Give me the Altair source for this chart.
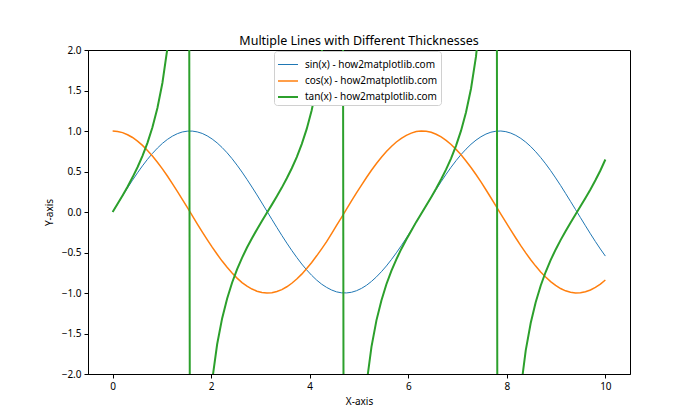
import altair as alt
import pandas as pd

x_vals = [0.0, 0.101, 0.202, 0.303, 0.404, 0.505, 0.606, 0.707, 0.808, 0.909,
          1.010, 1.111, 1.212, 1.313, 1.414, 1.515, 1.616, 1.717, 1.818, 1.919,
          2.020, 2.121, 2.222, 2.323, 2.424, 2.525, 2.626, 2.727, 2.828, 2.929,
          3.030, 3.131, 3.232, 3.333, 3.434, 3.535, 3.636, 3.737, 3.838, 3.939,
          4.040, 4.141, 4.242, 4.343, 4.444, 4.545, 4.646, 4.747, 4.848, 4.949,
          5.051, 5.152, 5.253, 5.354, 5.455, 5.556, 5.657, 5.758, 5.859, 5.960,
          6.061, 6.162, 6.263, 6.364, 6.465, 6.566, 6.667, 6.768, 6.869, 6.970,
          7.071, 7.172, 7.273, 7.374, 7.475, 7.576, 7.677, 7.778, 7.879, 7.980,
          8.081, 8.182, 8.283, 8.384, 8.485, 8.586, 8.687, 8.788, 8.889, 8.990,
          9.091, 9.192, 9.293, 9.394, 9.495, 9.596, 9.697, 9.798, 9.899, 10.0]

sin_vals = [0.000, 0.101, 0.201, 0.298, 0.393, 0.484, 0.570, 0.650, 0.723, 0.789,
            0.847, 0.896, 0.936, 0.967, 0.988, 0.998, 0.999, 0.989, 0.970, 0.940,
            0.901, 0.853, 0.796, 0.731, 0.658, 0.578, 0.493, 0.402, 0.308, 0.211,
            0.111, 0.010, -0.091, -0.191, -0.289, -0.384, -0.475, -0.561, -0.642, -0.716,
            -0.782, -0.841, -0.891, -0.931, -0.963, -0.986, -0.998, -0.999, -0.991, -0.972,
            -0.943, -0.905, -0.857, -0.801, -0.737, -0.666, -0.588, -0.504, -0.415, -0.322,
            -0.225, -0.121, -0.021, 0.080, 0.180, 0.279, 0.374, 0.466, 0.553, 0.634,
            0.709, 0.776, 0.836, 0.887, 0.929, 0.962, 0.985, 0.997, 1.000, 0.992,
            0.974, 0.946, 0.909, 0.863, 0.808, 0.744, 0.673, 0.595, 0.511, 0.421,
            0.328, 0.230, 0.131, 0.031, -0.070, -0.170, -0.269, -0.365, -0.457, -0.544]

cos_vals = [1.000, 0.995, 0.980, 0.954, 0.920, 0.875, 0.822, 0.760, 0.691, 0.615,
            0.532, 0.444, 0.351, 0.255, 0.156, 0.056, -0.045, -0.146, -0.245, -0.341,
            -0.434, -0.522, -0.606, -0.683, -0.753, -0.816, -0.871, -0.916, -0.951, -0.978,
            -0.994, -1.000, -0.996, -0.982, -0.958, -0.923, -0.880, -0.828, -0.767, -0.698,
            -0.623, -0.541, -0.455, -0.366, -0.268, -0.165, -0.067, 0.035, 0.136, 0.235,
            0.332, 0.426, 0.515, 0.599, 0.676, 0.746, 0.809, 0.864, 0.910, 0.947,
            0.974, 0.993, 1.000, 0.997, 0.984, 0.960, 0.927, 0.885, 0.834, 0.773,
            0.706, 0.630, 0.549, 0.463, 0.371, 0.275, 0.176, 0.076, -0.025, -0.126,
            -0.225, -0.321, -0.416, -0.505, -0.589, -0.668, -0.740, -0.803, -0.860, -0.907,
            -0.945, -0.973, -0.991, -1.000, -0.998, -0.985, -0.963, -0.931, -0.890, -0.839]

tan_vals = [0.000, 0.101, 0.205, 0.313, 0.428, 0.553, 0.693, 0.854, 1.047, 1.284,
            1.593, 2.019, 2.668, 3.797, 6.33, 17.96, -22.0, -6.79, -3.96, -2.76,
            -2.08, -1.633, -1.314, -1.070, -0.873, -0.708, -0.566, -0.439, -0.324, -0.215,
            -0.112, -0.010, 0.091, 0.194, 0.301, 0.416, 0.540, 0.678, 0.838, 1.026,
            1.256, 1.556, 1.957, 2.547, 3.59, 5.96, 15.0, -28.8, -7.31, -4.13,
            -2.84, -2.127, -1.664, -1.338, -1.092, -0.892, -0.727, -0.584, -0.456, -0.340,
            -0.231, -0.122, -0.021, 0.081, 0.183, 0.290, 0.404, 0.526, 0.663, 0.820,
            1.004, 1.231, 1.522, 1.917, 2.506, 3.50, 5.59, 13.1, -40.3, -7.90,
            -4.32, -2.94, -2.186, -1.708, -1.371, -1.115, -0.910, -0.741, -0.594, -0.465,
            -0.347, -0.237, -0.133, -0.031, 0.070, 0.173, 0.279, 0.392, 0.513, 0.648]

labels = ["sin(x) - how2matplotlib.com", "cos(x) - how2matplotlib.com", "tan(x) - how2matplotlib.com"]
colors = ["#1f77b4", "#ff7f0e", "#2ca02c"]
widths = [1, 2, 3]

rows = []
for lab, ys in zip(labels, [sin_vals, cos_vals, tan_vals]):
    for i, (xv, yv) in enumerate(zip(x_vals, ys)):
        rows.append({"x": xv, "y": yv, "series": lab, "idx": i})
df = pd.DataFrame(rows)

FONT = "Noto Sans"

legend = alt.Legend(
    title=None, orient="none", legendX=186, legendY=1,
    symbolType="stroke", symbolSize=400, labelFontSize=10, labelFont=FONT,
    labelColor="black", fillColor="white", strokeColor="#d0d0d0",
    cornerRadius=3, padding=3, rowPadding=0, labelOffset=6,
)

base = alt.Chart(df).mark_line(clip=True).encode(
    x=alt.X("x:Q", scale=alt.Scale(domain=[-0.5, 10.5], nice=False, zero=False),
            axis=alt.Axis(values=[0, 2, 4, 6, 8, 10], title="X-axis", grid=False)),
    y=alt.Y("y:Q", scale=alt.Scale(domain=[-2, 2], nice=False),
            axis=alt.Axis(values=[-2, -1.5, -1, -0.5, 0, 0.5, 1, 1.5, 2], format=".1f",
                          title="Y-axis", grid=False, titleX=-34)),
    color=alt.Color("series:N", scale=alt.Scale(domain=labels, range=colors), legend=legend),
    strokeWidth=alt.StrokeWidth("series:N", scale=alt.Scale(domain=labels, range=widths), legend=legend),
    order="idx:Q",
)

layers = [base.transform_filter(alt.datum.series == lab) for lab in labels]

chart = alt.layer(*layers).properties(
    width=542, height=324,
    title=alt.TitleParams("Multiple Lines with Different Thicknesses", fontSize=12.5, font=FONT,
                          fontWeight="normal", color="black", offset=-2),
    autosize=alt.AutoSizeParams(type="none"),
    padding={"left": 80, "top": 42, "right": 62, "bottom": 38},
).configure_view(stroke="black", strokeWidth=1).configure_axis(
    domainColor="black", tickColor="black", labelColor="black", titleColor="black",
    labelFont=FONT, titleFont=FONT, labelFontSize=10, titleFontSize=10,
    titleFontWeight="normal", tickSize=4, labelPadding=3,
).configure_axisX(titlePadding=5)

chart.save("out.html", embed_options={"renderer": "svg", "actions": False})
